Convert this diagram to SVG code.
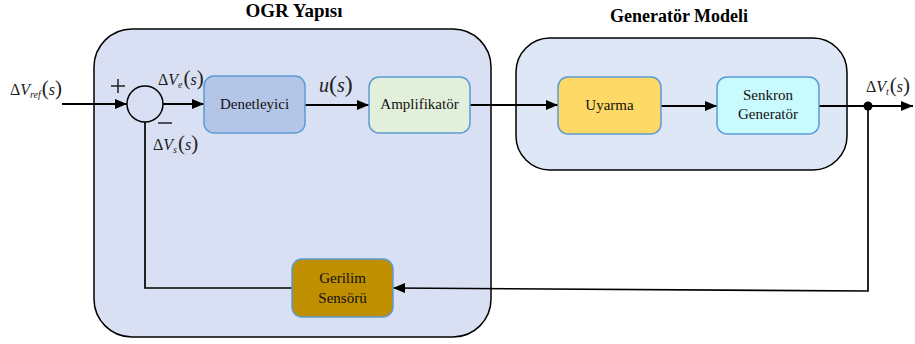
<svg xmlns="http://www.w3.org/2000/svg" width="915" height="344" viewBox="0 0 915 344">
<style>
.grp{stroke:#000;stroke-width:1.5}
.node{stroke:#5b9bd5;stroke-width:1.5}
.lbl{font-family:'Liberation Serif','Times New Roman','DejaVu Serif',serif;font-size:15px;fill:#111;text-anchor:middle}
.ttl{font-family:'Liberation Serif','Times New Roman','DejaVu Serif',serif;font-size:19px;font-weight:bold;fill:#000;text-anchor:middle}
.m{font-family:'Liberation Serif','Times New Roman','DejaVu Serif',serif;font-size:16px;fill:#222}
.it{font-style:italic}
.par{font-size:21px}
.sub{font-size:10px;font-style:italic}
.c{fill:none;stroke:#000;stroke-width:2}
.cf{fill:none;stroke:#000;stroke-width:1.7}
</style>
<defs>
<marker id="ah" viewBox="0 0 12 10" refX="12" refY="5" markerWidth="12" markerHeight="10" markerUnits="userSpaceOnUse" orient="auto">
<path d="M0,0 L12,5 L0,10 Z" fill="#000"/>
</marker>
</defs>
<rect width="915" height="344" fill="#fff"/>

<g id="ogr">
<rect class="grp" x="94" y="29" width="397" height="308" rx="38" fill="#dae0f3"/>
<text class="ttl" x="294" y="17">OGR Yapısı</text>
</g>
<g id="generator-modeli">
<rect class="grp" x="516" y="38" width="331" height="132" rx="34" fill="#dde7f5"/>
<text class="ttl" x="679" y="22" style="font-size:18px">Generatör Modeli</text>
</g>

<g id="connectors">
<line class="c" x1="62" y1="104" x2="127" y2="104" marker-end="url(#ah)"/>
<line class="c" x1="163" y1="104" x2="204" y2="104" marker-end="url(#ah)"/>
<line class="c" x1="305" y1="105" x2="369" y2="105" marker-end="url(#ah)"/>
<line class="c" x1="470" y1="105" x2="558" y2="105" marker-end="url(#ah)"/>
<line class="c" x1="661" y1="106" x2="717" y2="106" marker-end="url(#ah)"/>
<line class="c" x1="819" y1="106" x2="913" y2="106" marker-end="url(#ah)"/>
<polyline class="cf" points="868,106 868,291 393,288" marker-end="url(#ah)"/>
<polyline class="cf" points="292,288 145,288 145,122"/>
<circle cx="868" cy="106" r="4.5" fill="#000"/>
</g>

<g id="sum">
<circle cx="145" cy="104" r="18" fill="#dae0f3" stroke="#000" stroke-width="1.5"/>
<line x1="111" y1="86" x2="125" y2="86" stroke="#222" stroke-width="1.5"/>
<line x1="118" y1="79" x2="118" y2="93" stroke="#222" stroke-width="1.5"/>
<line x1="158" y1="123" x2="172" y2="123" stroke="#222" stroke-width="1.5"/>
</g>

<g id="denetleyici">
<rect class="node" x="204" y="76" width="101" height="57" rx="10" fill="#b4c6e7"/>
<text class="lbl" x="254.5" y="109">Denetleyici</text>
</g>
<g id="amplifikator">
<rect class="node" x="369" y="77" width="101" height="56" rx="10" fill="#e2efda"/>
<text class="lbl" x="419.5" y="109">Amplifikatör</text>
</g>
<g id="uyarma">
<rect class="node" x="558" y="77" width="103" height="57" rx="10" fill="#ffd966"/>
<text class="lbl" x="609.5" y="110">Uyarma</text>
</g>
<g id="senkron">
<rect class="node" x="717" y="77" width="102" height="57" rx="10" fill="#c9fafd"/>
<text class="lbl" x="768" y="100">Senkron</text>
<text class="lbl" x="768" y="119">Generatör</text>
</g>
<g id="sensor">
<rect class="node" x="292" y="259" width="101" height="58" rx="10" fill="#bf8f00"/>
<text class="lbl" x="342.5" y="283">Gerilim</text>
<text class="lbl" x="342.5" y="303">Sensörü</text>
</g>

<g id="labels">
<text class="m" x="10" y="95">Δ<tspan class="it">V</tspan><tspan class="sub" dy="3">ref</tspan><tspan class="par" dy="-3" dx="1">(</tspan><tspan class="it">s</tspan><tspan class="par">)</tspan></text>
<text class="m" x="158" y="85">Δ<tspan class="it">V</tspan><tspan class="sub" dy="3">e</tspan><tspan class="par" dy="-3" dx="1">(</tspan><tspan class="it">s</tspan><tspan class="par">)</tspan></text>
<text class="m" x="153" y="150">Δ<tspan class="it">V</tspan><tspan class="sub" dy="3">s</tspan><tspan class="par" dy="-3" dx="1">(</tspan><tspan class="it">s</tspan><tspan class="par">)</tspan></text>
<text class="m" x="866" y="92">Δ<tspan class="it">V</tspan><tspan class="sub" dy="3">t</tspan><tspan class="par" dy="-3" dx="1">(</tspan><tspan class="it">s</tspan><tspan class="par">)</tspan></text>
<text class="m" x="319" y="92" style="font-size:20px"><tspan class="it">u</tspan><tspan style="font-size:24px">(</tspan><tspan class="it">s</tspan><tspan style="font-size:24px">)</tspan></text>
</g>
</svg>
